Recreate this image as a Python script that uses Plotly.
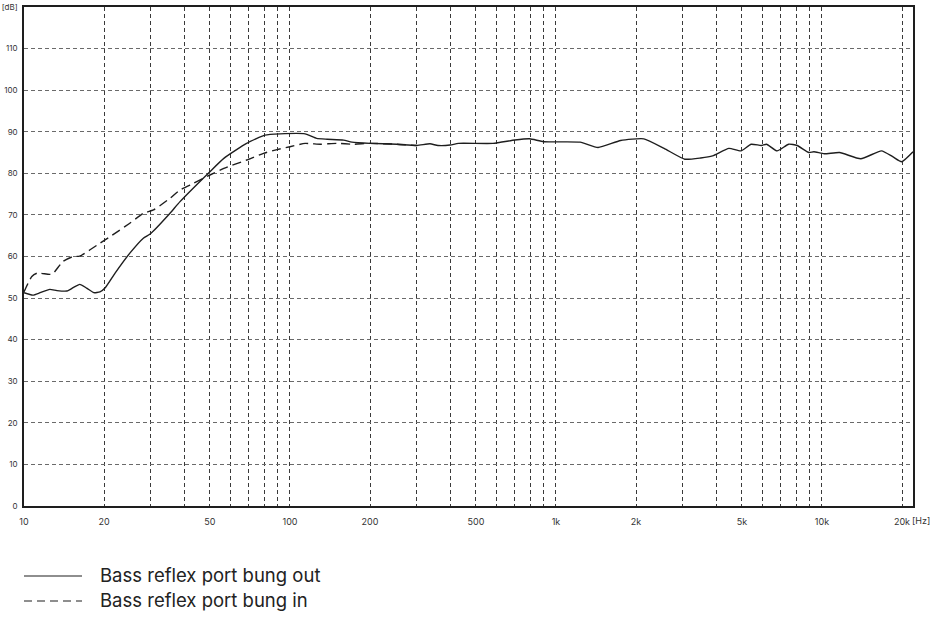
import plotly.graph_objects as go

# ---- data ----
freq_out = [10, 10.8, 11.5, 12.5, 13.3, 14.5, 15.3, 16.2, 17.2, 18.3, 19.3, 20.2, 22.0, 25.0, 28.1,
            29.8, 35.4, 38.6, 50, 56.4, 68.7, 80.5, 91.8, 114, 126, 138, 159, 171, 200, 252, 300,
            336, 360, 400, 430, 580, 700, 795, 900, 1233, 1440, 1750, 2140, 2550, 3050, 3500,
            3880, 4470, 4960, 5420, 5920, 6190, 6780, 7500, 8070, 8930, 9330, 10200, 11650,
            14000, 16750, 18450, 19950, 22000]
db_out = [51.3, 50.7, 51.3, 52.1, 51.8, 51.7, 52.5, 53.3, 52.4, 51.3, 51.5, 52.5, 56.0, 60.8, 64.4,
          65.4, 70.4, 73.2, 80.4, 83.6, 87.2, 89.2, 89.5, 89.5, 88.4, 88.2, 88.0, 87.5, 87.2, 87.0, 86.7,
          87.1, 86.7, 86.8, 87.2, 87.2, 88.0, 88.3, 87.6, 87.5, 86.2, 87.9, 88.3, 86.0, 83.4, 83.7,
          84.2, 86.0, 85.4, 87.0, 86.7, 87.0, 85.4, 87.0, 86.7, 85.0, 85.2, 84.7, 85.0,
          83.5, 85.4, 84.0, 82.8, 85.2]

freq_in = [10, 10.7, 11.2, 12.5, 12.9, 14.0, 15.3, 16.2, 19.3, 21.1, 25.0, 28.1, 30.7, 35.4, 38.6,
           43.4, 50, 56.4, 68.7, 79.5, 89.4, 100, 114, 130, 150, 173, 200, 252, 300]
db_in = [51.5, 55.2, 56.0, 55.7, 56.0, 58.8, 60.0, 60.1, 63.2, 64.8, 68.0, 70.4, 71.2, 74.0, 76.0,
         77.6, 79.6, 81.2, 83.2, 84.8, 85.7, 86.4, 87.2, 87.0, 87.2, 87.0, 87.2, 87.0, 86.7]

x_grid = [10, 20, 30, 40, 50, 60, 70, 80, 90, 100, 200, 300, 400, 500, 600, 700, 800, 900,
          1000, 2000, 3000, 4000, 5000, 6000, 7000, 8000, 9000, 10000, 20000]
x_labels = ["10", "20", "", "", "50", "", "", "", "", "100", "200", "", "", "500", "", "", "", "",
            "1k", "2k", "", "", "5k", "", "", "", "", "10k", "20k"]
y_vals = [0, 10, 20, 30, 40, 50, 60, 70, 80, 90, 100, 110, 120]
y_labels = ["0", "10", "20", "30", "40", "50", "60", "70", "80", "90", "100", "110", "[dB]"]

legend_names = ["Bass reflex port bung out", "Bass reflex port bung in"]

LINE = "#1e1e1e"
FONT = "Inter"

fig = go.Figure()
fig.add_trace(go.Scatter(x=freq_out, y=db_out, mode="lines", name=legend_names[0],
                         line=dict(color=LINE, width=1.4, shape="spline", smoothing=0.5),
                         showlegend=False))
fig.add_trace(go.Scatter(x=freq_in, y=db_in, mode="lines", name=legend_names[1],
                         line=dict(color=LINE, width=1.4, dash="9px,5px", shape="spline", smoothing=0.5),
                         showlegend=False))

fig.update_xaxes(type="log", range=[1, 4.3424], tickmode="array", tickvals=x_grid, ticktext=x_labels,
                 showgrid=True, gridcolor="#3a3a3a", gridwidth=1, griddash="4px,3px",
                 showline=True, linecolor="#1e1e1e", linewidth=1.5, mirror=True, ticks="",
                 tickfont=dict(family=FONT, size=9, color="#333"), ticklabelstandoff=6,
                 zeroline=False, automargin=False)
fig.update_yaxes(range=[0, 120], tickmode="array", tickvals=y_vals, ticktext=y_labels,
                 showgrid=True, gridcolor="#6a6a6a", gridwidth=1, griddash="4px,3px",
                 showline=True, linecolor="#1e1e1e", linewidth=1.5, mirror=True, ticks="",
                 tickfont=dict(family=FONT, size=8, color="#333"), ticklabelstandoff=3,
                 zeroline=False, automargin=False)

# axis unit for x
fig.add_annotation(text="[Hz]", xref="paper", yref="paper", x=1.0, y=0, xanchor="left", yanchor="top",
                   xshift=-3, yshift=-7, showarrow=False, font=dict(family=FONT, size=9, color="#333"))

# custom legend below the plot
H = 499.0
for i, (name, dash) in enumerate(zip(legend_names, ["solid", "8px,5px"])):
    ypix = 576 + i * 25
    yp = (506 - ypix) / H
    fig.add_shape(type="line", xref="paper", yref="paper", x0=0, x1=58 / 889, y0=yp, y1=yp,
                  line=dict(color=LINE, width=1.2, dash=dash))
    fig.add_annotation(text=name, xref="paper", yref="paper", x=74 / 889, y=yp, xanchor="left",
                       yanchor="middle", yshift=1, showarrow=False,
                       font=dict(family=FONT, size=18.5, color="#222"))

fig.update_layout(width=938, height=619, margin=dict(l=24, r=25, t=7, b=113),
                  paper_bgcolor="white", plot_bgcolor="white", showlegend=False)

fig.write_html("out.html", config={"displayModeBar": False},
               post_script="document.body.style.margin='0';document.body.style.overflow='hidden';")
